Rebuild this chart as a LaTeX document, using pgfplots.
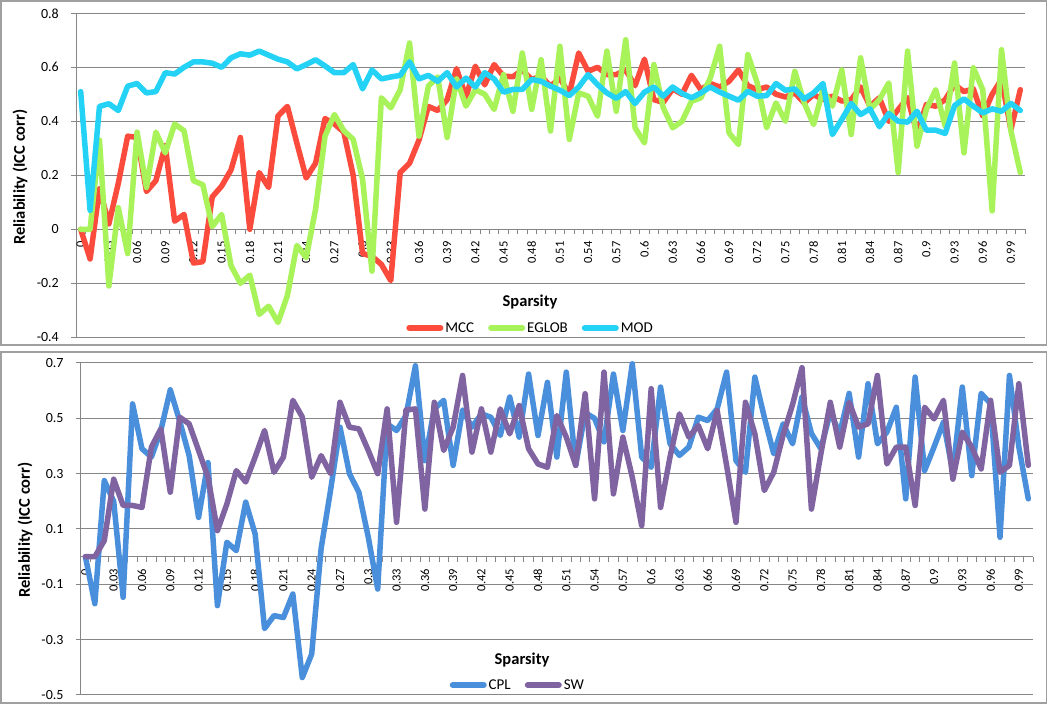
\documentclass[border=0pt]{standalone}
\usepackage{fontspec}
\setmainfont{Carlito}
\usepackage{pgfplots}
\pgfplotsset{compat=1.18}
\usepackage{pgfplotstable}

\definecolor{mcc}{RGB}{250,75,60}
\definecolor{eglob}{RGB}{168,242,90}
\definecolor{modc}{RGB}{35,210,245}
\definecolor{cpl}{RGB}{74,143,219}
\definecolor{sw}{RGB}{128,100,162}
\definecolor{gridgray}{RGB}{134,134,134}
\definecolor{framegray}{RGB}{160,160,160}

\pgfplotstableread{
x mcc eglob mod
0.00 0.000 0.000 0.510
0.01 -0.110 0.000 0.070
0.02 0.150 0.330 0.455
0.03 0.020 -0.210 0.465
0.04 0.170 0.080 0.440
0.05 0.345 -0.090 0.530
0.06 0.340 0.360 0.540
0.07 0.140 0.155 0.505
0.08 0.180 0.360 0.510
0.09 0.310 0.283 0.580
0.10 0.030 0.390 0.575
0.11 0.055 0.365 0.600
0.12 -0.125 0.180 0.620
0.13 -0.120 0.165 0.620
0.14 0.120 0.010 0.615
0.15 0.160 0.055 0.600
0.16 0.220 -0.135 0.635
0.17 0.340 -0.200 0.650
0.18 0.000 -0.170 0.645
0.19 0.210 -0.315 0.660
0.20 0.155 -0.285 0.645
0.21 0.420 -0.345 0.630
0.22 0.455 -0.245 0.620
0.23 0.320 -0.060 0.594
0.24 0.190 -0.105 0.610
0.25 0.245 0.075 0.628
0.26 0.410 0.345 0.605
0.27 0.390 0.425 0.580
0.28 0.360 0.365 0.580
0.29 0.200 0.333 0.610
0.30 -0.090 0.185 0.520
0.31 -0.100 -0.155 0.590
0.32 -0.130 0.487 0.557
0.33 -0.190 0.450 0.564
0.34 0.210 0.517 0.570
0.35 0.245 0.690 0.620
0.36 0.330 0.345 0.557
0.37 0.455 0.530 0.570
0.38 0.440 0.564 0.548
0.39 0.480 0.340 0.580
0.40 0.595 0.557 0.527
0.41 0.490 0.456 0.560
0.42 0.604 0.517 0.527
0.43 0.535 0.500 0.580
0.44 0.610 0.444 0.557
0.45 0.567 0.573 0.508
0.46 0.565 0.437 0.518
0.47 0.590 0.653 0.518
0.48 0.555 0.444 0.555
0.49 0.567 0.628 0.548
0.50 0.530 0.364 0.530
0.51 0.560 0.678 0.515
0.52 0.500 0.333 0.495
0.53 0.653 0.505 0.527
0.54 0.585 0.493 0.573
0.55 0.600 0.419 0.536
0.56 0.573 0.660 0.505
0.57 0.573 0.437 0.485
0.58 0.590 0.702 0.510
0.59 0.532 0.376 0.466
0.60 0.630 0.320 0.508
0.61 0.480 0.610 0.527
0.62 0.470 0.450 0.493
0.63 0.520 0.376 0.527
0.64 0.500 0.400 0.503
0.65 0.570 0.474 0.487
0.66 0.517 0.487 0.505
0.67 0.540 0.560 0.527
0.68 0.527 0.678 0.508
0.69 0.548 0.357 0.493
0.70 0.590 0.314 0.478
0.71 0.532 0.647 0.511
0.72 0.517 0.542 0.493
0.73 0.527 0.376 0.495
0.74 0.500 0.468 0.540
0.75 0.490 0.400 0.515
0.76 0.505 0.585 0.520
0.77 0.468 0.468 0.483
0.78 0.499 0.388 0.505
0.79 0.480 0.517 0.540
0.80 0.493 0.456 0.351
0.81 0.475 0.590 0.407
0.82 0.480 0.351 0.466
0.83 0.527 0.635 0.425
0.84 0.456 0.444 0.446
0.85 0.487 0.480 0.380
0.86 0.400 0.542 0.429
0.87 0.443 0.210 0.400
0.88 0.487 0.660 0.397
0.89 0.357 0.308 0.437
0.90 0.462 0.444 0.367
0.91 0.456 0.517 0.367
0.92 0.480 0.382 0.355
0.93 0.536 0.616 0.458
0.94 0.510 0.283 0.483
0.95 0.520 0.598 0.456
0.96 0.419 0.517 0.431
0.97 0.500 0.068 0.446
0.98 0.555 0.665 0.437
0.99 0.369 0.364 0.466
1.00 0.517 0.210 0.440
}\toptable

\pgfplotstableread{
x cpl sw
0.00 0.000 0.000
0.01 -0.170 0.000
0.02 0.275 0.058
0.03 0.200 0.280
0.04 -0.147 0.185
0.05 0.552 0.185
0.06 0.390 0.178
0.07 0.360 0.396
0.08 0.456 0.462
0.09 0.603 0.233
0.10 0.490 0.504
0.11 0.365 0.480
0.12 0.142 0.384
0.13 0.340 0.287
0.14 -0.177 0.094
0.15 0.052 0.190
0.16 0.022 0.311
0.17 0.197 0.270
0.18 0.082 0.360
0.19 -0.260 0.456
0.20 -0.213 0.305
0.21 -0.220 0.360
0.22 -0.135 0.565
0.23 -0.437 0.505
0.24 -0.352 0.287
0.25 0.030 0.365
0.26 0.240 0.300
0.27 0.468 0.558
0.28 0.300 0.468
0.29 0.233 0.462
0.30 0.070 0.384
0.31 -0.117 0.300
0.32 0.480 0.534
0.33 0.456 0.124
0.34 0.510 0.530
0.35 0.690 0.534
0.36 0.347 0.172
0.37 0.534 0.558
0.38 0.565 0.384
0.39 0.330 0.468
0.40 0.530 0.655
0.41 0.468 0.378
0.42 0.516 0.534
0.43 0.504 0.378
0.44 0.438 0.534
0.45 0.577 0.444
0.46 0.432 0.546
0.47 0.660 0.390
0.48 0.438 0.335
0.49 0.630 0.323
0.50 0.360 0.510
0.51 0.667 0.432
0.52 0.330 0.330
0.53 0.520 0.589
0.54 0.500 0.209
0.55 0.415 0.667
0.56 0.660 0.227
0.57 0.456 0.432
0.58 0.697 0.287
0.59 0.360 0.112
0.60 0.323 0.607
0.61 0.613 0.178
0.62 0.408 0.360
0.63 0.366 0.516
0.64 0.396 0.432
0.65 0.504 0.474
0.66 0.492 0.390
0.67 0.534 0.528
0.68 0.667 0.330
0.69 0.347 0.124
0.70 0.305 0.558
0.71 0.649 0.444
0.72 0.504 0.239
0.73 0.372 0.305
0.74 0.480 0.440
0.75 0.408 0.550
0.76 0.577 0.683
0.77 0.445 0.172
0.78 0.390 0.372
0.79 0.522 0.558
0.80 0.445 0.396
0.81 0.590 0.558
0.82 0.360 0.468
0.83 0.625 0.480
0.84 0.408 0.655
0.85 0.450 0.335
0.86 0.540 0.396
0.87 0.209 0.396
0.88 0.649 0.185
0.89 0.311 0.540
0.90 0.396 0.498
0.91 0.486 0.565
0.92 0.305 0.280
0.93 0.613 0.450
0.94 0.293 0.396
0.95 0.590 0.317
0.96 0.553 0.565
0.97 0.070 0.305
0.98 0.655 0.330
0.99 0.396 0.625
1.00 0.209 0.330
}\bottable

\pgfplotsset{
  excel/.style={
    scale only axis,
    clip=false,
    axis x line*=middle,
    axis y line*=left,
    xmin=-0.005, xmax=1.005,
    xtick={0,0.03,0.06,0.09,0.12,0.15,0.18,0.21,0.24,0.27,0.3,0.33,0.36,0.39,0.42,0.45,0.48,0.51,0.54,0.57,0.6,0.63,0.66,0.69,0.72,0.75,0.78,0.81,0.84,0.87,0.9,0.93,0.96,0.99},
    xticklabels={0,0.03,0.06,0.09,0.12,0.15,0.18,0.21,0.24,0.27,0.3,0.33,0.36,0.39,0.42,0.45,0.48,0.51,0.54,0.57,0.6,0.63,0.66,0.69,0.72,0.75,0.78,0.81,0.84,0.87,0.9,0.93,0.96,0.99},
    minor xtick={-0.005,0.005,...,1.006},
    minor tick length=5bp,
    major tick length=5bp,
    x tick label style={font=\fontsize{12.5bp}{14bp}\selectfont, inner sep=0pt, yshift=-7bp, rotate=90, anchor=east},
    y tick label style={font=\fontsize{14bp}{16bp}\selectfont, inner sep=0pt, anchor=east, xshift=-12bp},
    tick align=outside,
    tick style={gridgray, line width=1bp},
    every major x tick/.style={draw=none},
    ymajorgrids,
    grid style={gridgray, line width=1bp},
    axis line style={gridgray, line width=1bp},
    every axis plot/.append style={line width=5.5bp, line join=round, line cap=round},
    legend style={draw=none, fill=none, anchor=center, legend columns=-1,
      font=\fontsize{15bp}{17bp}\selectfont,
      /tikz/every even column/.append style={column sep=12bp}},
    legend image code/.code={\draw[#1, line width=6bp, line cap=round] (3bp,0bp) -- (34bp,0bp);},
  }
}

\begin{document}
\begin{tikzpicture}[x=1bp,y=1bp]
\useasboundingbox (0,0) rectangle (1050,707);
\fill[white] (0,0) rectangle (1050,707);
% top chart frame
\draw[framegray, line width=1.2bp] (1,362) rectangle (1046.5,706);
\begin{axis}[excel,
  at={(76bp,369.7bp)}, anchor=south west,
  width=949bp, height=324bp,
  ymin=-0.4, ymax=0.8,
  ytick={-0.4,-0.2,0,0.2,0.4,0.6,0.8},
  yticklabels={-0.4,-0.2,0,0.2,0.4,0.6,0.8},
  legend style={at={(axis description cs:0.479,0.029)}},
]
\addplot[mcc] table[x=x, y=mcc] {\toptable};
\addlegendentry{MCC}
\addplot[eglob] table[x=x, y=eglob] {\toptable};
\addlegendentry{EGLOB}
\addplot[modc] table[x=x, y=mod] {\toptable};
\addlegendentry{MOD}
\end{axis}
\node[font=\bfseries\fontsize{16.5bp}{18bp}\selectfont] at (530,405) {Sparsity};
\node[rotate=90, font=\bfseries\fontsize{16.5bp}{18bp}\selectfont] at (20,530) {Reliability (ICC corr)};
% bottom chart frame
\fill[white] (0,0) rectangle (1050,361);
\draw[framegray, line width=1.2bp] (1,4) rectangle (1046.5,355);
\begin{axis}[excel,
  at={(80.7bp,12bp)}, anchor=south west,
  width=952.3bp, height=332bp,
  ymin=-0.5, ymax=0.7,
  ytick={-0.5,-0.3,-0.1,0.1,0.3,0.5,0.7},
  yticklabels={-0.5,-0.3,-0.1,0.1,0.3,0.5,0.7},
  legend style={at={(axis description cs:0.459,0.03)}},
]
\addplot[cpl] table[x=x, y=cpl] {\bottable};
\addlegendentry{CPL}
\addplot[sw] table[x=x, y=sw] {\bottable};
\addlegendentry{SW}
\end{axis}
\node[font=\bfseries\fontsize{16.5bp}{18bp}\selectfont] at (522,47) {Sparsity};
\node[rotate=90, font=\bfseries\fontsize{16.5bp}{18bp}\selectfont] at (25,177) {Reliability (ICC corr)};
\end{tikzpicture}
\end{document}
